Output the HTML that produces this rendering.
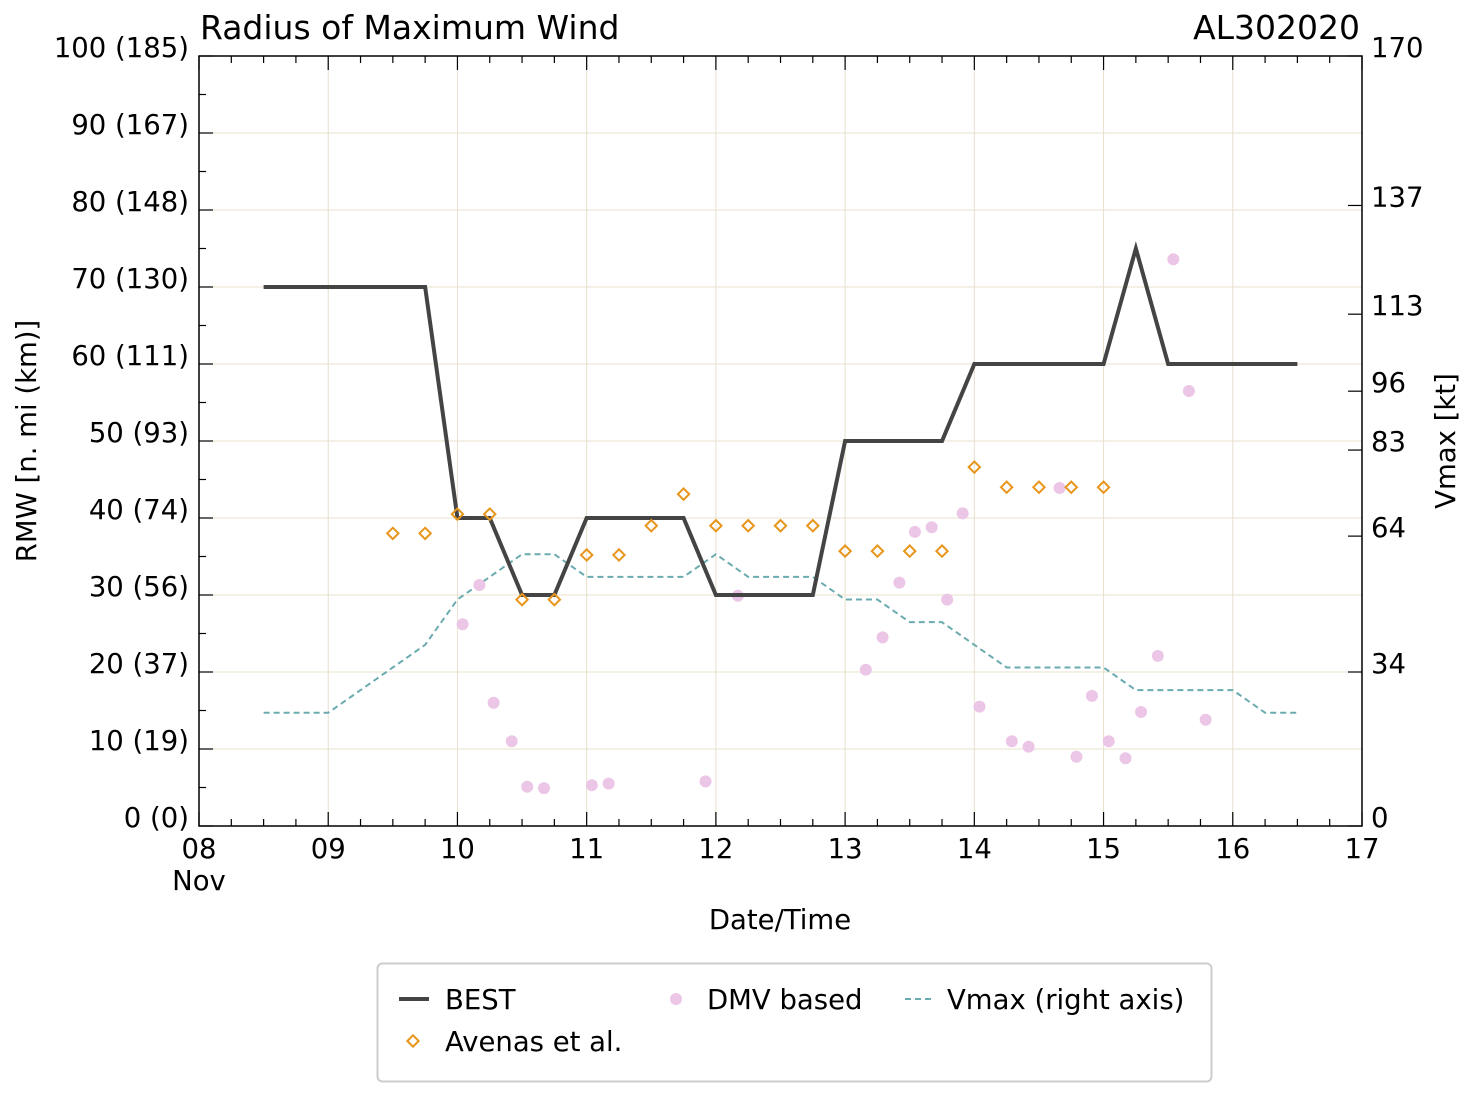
<!DOCTYPE html>
<html><head><meta charset="utf-8"><style>
body{margin:0;background:#fff;}
svg text{font-family:"DejaVu Sans","Liberation Sans",sans-serif;fill:#000;}
</style></head><body>
<svg id="chart" width="1477" height="1096" xmlns="http://www.w3.org/2000/svg">
<g id="grid"></g>
<g id="series"></g>
<g id="axes"></g>
<text x="200" y="39" font-size="33">Radius of Maximum Wind</text>
<text x="1360" y="39" font-size="33" text-anchor="end">AL302020</text>
<text x="780" y="929" font-size="27.5" text-anchor="middle">Date/Time</text>
<text transform="translate(36,441) rotate(-90)" font-size="27.5" text-anchor="middle">RMW [n. mi (km)]</text>
<text transform="translate(1455,441) rotate(-90)" font-size="27.5" text-anchor="middle">Vmax [kt]</text>
<g>
<rect x="377.5" y="963.5" width="834" height="118" rx="5" fill="#fff" stroke="#ccc" stroke-width="2"/>
<line x1="399" y1="999" x2="429" y2="999" stroke="#444" stroke-width="4"/>
<text x="445" y="1009" font-size="27.5">BEST</text>
<rect x="409" y="1037" width="8" height="8" fill="none" stroke="#e8951c" stroke-width="2" transform="rotate(45 413 1041)"/>
<text x="445" y="1051" font-size="27.5">Avenas et al.</text>
<circle cx="676" cy="999" r="6" fill="#ecc6e6"/>
<text x="707" y="1009" font-size="27.5">DMV based</text>
<line x1="905" y1="999" x2="935" y2="999" stroke="#6aabb0" stroke-width="2" stroke-dasharray="6,4"/>
<text x="947" y="1009" font-size="27.5">Vmax (right axis)</text>
</g>
</svg>
<script>
const bestDays=[8.5,9.75,10,10.25,10.5,10.75,11,11.75,12,12.75,13,13.75,14,15,15.25,15.5,16.5];
const bestRmw=[70,70,40,40,30,30,40,40,30,30,50,50,60,60,75,60,60];
const vmaxDays=[8.5,9,9.25,9.5,9.75,10,10.25,10.5,10.75,11,11.75,12,12.25,12.75,13,13.25,13.5,13.75,14,14.25,15,15.25,16,16.25,16.5];
const vmaxKt=[25,25,30,35,40,50,55,60,60,55,55,60,55,55,50,50,45,45,40,35,35,30,30,25,25];
const avenasDays=[9.5,9.75,10,10.25,10.5,10.75,11,11.25,11.5,11.75,12,12.25,12.5,12.75,13,13.25,13.5,13.75,14,14.25,14.5,14.75,15];
const avenasRmw=[38,38,40.5,40.5,29.4,29.4,35.2,35.2,39,43.1,39,39,39,39,35.7,35.7,35.7,35.7,46.6,44,44,44,44];
const dmvDays=[10.04,10.17,10.28,10.42,10.54,10.67,11.04,11.17,11.92,12.17,13.16,13.29,13.42,13.54,13.67,13.79,13.91,14.04,14.29,14.42,14.66,14.79,14.91,15.04,15.17,15.29,15.42,15.54,15.66,15.79];
const dmvRmw=[26.2,31.3,16,11,5.1,4.9,5.3,5.5,5.8,29.9,20.3,24.5,31.6,38.2,38.8,29.4,40.6,15.5,11,10.3,43.9,9,16.9,11,8.8,14.8,22.1,73.6,56.5,13.8];
const xTickLabels=["08","09","10","11","12","13","14","15","16","17"];
const yTickLabels=["0 (0)","10 (19)","20 (37)","30 (56)","40 (74)","50 (93)","60 (111)","70 (130)","80 (148)","90 (167)","100 (185)"];
const rightTicks=[0,34,64,83,96,113,137,170];

const L=199,R=1362,T=56,B=826;
const X=d=>L+(d-8)/9*(R-L);
const Y=v=>B-v/100*(B-T);
const YV=v=>B-v/170*(B-T);
const NS="http://www.w3.org/2000/svg";
function mk(tag,attrs,parent){const e=document.createElementNS(NS,tag);for(const k in attrs)e.setAttribute(k,attrs[k]);document.getElementById(parent).appendChild(e);return e;}

for(let i=0;i<xTickLabels.length;i++){const g=mk('line',{x1:X(8+i),x2:X(8+i),y1:T,y2:B,stroke:'#e8e0cc','stroke-width':1},'grid');

}
for(let i=0;i<yTickLabels.length;i++){const g=mk('line',{x1:L,x2:R,y1:Y(i*10),y2:Y(i*10),stroke:'#e8e0cc','stroke-width':1},'grid');

}

const fr=mk('rect',{x:L,y:T,width:R-L,height:B-T,fill:'none',stroke:'#000','stroke-width':1.5},'axes');


for(let d=8;d<=17.001;d+=0.25){const maj=Math.abs(d-Math.round(d))<1e-6;
mk('line',{x1:X(d),x2:X(d),y1:B,y2:B-(maj?14:7),stroke:'#000','stroke-width':1.2},'axes');
mk('line',{x1:X(d),x2:X(d),y1:T,y2:T+(maj?14:7),stroke:'#000','stroke-width':1.2},'axes');}
xTickLabels.forEach((s,i)=>{const t=mk('text',{x:X(8+i),y:858,'font-size':27.5,'text-anchor':'middle'},'axes');t.textContent=s;

});
const nov=mk('text',{x:X(8),y:890,'font-size':27.5,'text-anchor':'middle'},'axes');nov.textContent='Nov';


for(let v=0;v<=100;v+=5){const maj=v%10===0;mk('line',{x1:L,x2:L+(maj?14:7),y1:Y(v),y2:Y(v),stroke:'#000','stroke-width':1.2},'axes');}
yTickLabels.forEach((s,i)=>{const t=mk('text',{x:189,y:Y(i*10)+1,'font-size':27.5,'text-anchor':'end'},'axes');t.textContent=s;

});
rightTicks.forEach(v=>{mk('line',{x1:R,x2:R-14,y1:YV(v),y2:YV(v),stroke:'#000','stroke-width':1.2},'axes');
const t=mk('text',{x:1371,y:YV(v)+1,'font-size':27.5},'axes');t.textContent=String(v);

});

const vl=mk('polyline',{points:vmaxDays.map((d,i)=>X(d)+','+YV(vmaxKt[i])).join(' '),fill:'none',stroke:'#6aabb0','stroke-width':2,'stroke-dasharray':'6,4'},'series');


dmvDays.forEach((d,i)=>{const c=mk('circle',{cx:X(d),cy:Y(dmvRmw[i]),r:6,fill:'#ecc6e6'},'series');

});
const bl=mk('polyline',{points:bestDays.map((d,i)=>X(d)+','+Y(bestRmw[i])).join(' '),fill:'none',stroke:'#444','stroke-width':4,'stroke-linejoin':'miter'},'series');


avenasDays.forEach((d,i)=>{const x=X(d),y=Y(avenasRmw[i]);const r=mk('rect',{x:x-4,y:y-4,width:8,height:8,fill:'none',stroke:'#e8951c','stroke-width':2,transform:`rotate(45 ${x} ${y})`},'series');

});
</script>
</body></html>
